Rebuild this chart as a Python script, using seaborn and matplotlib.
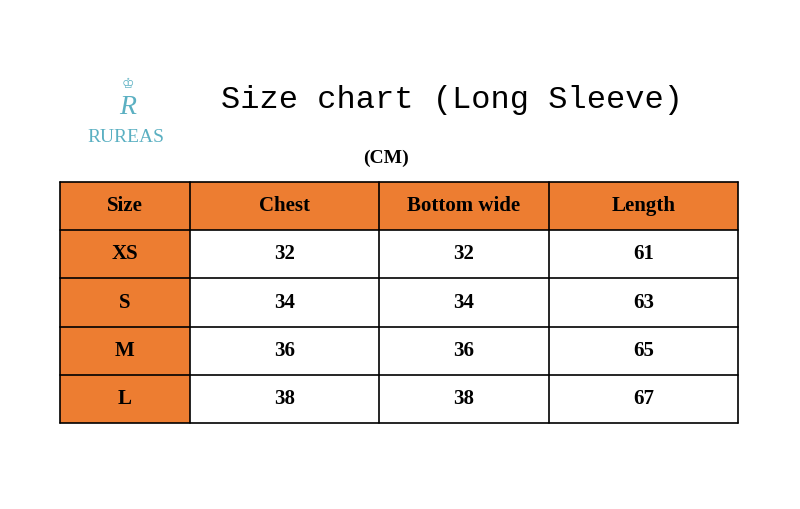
import matplotlib
matplotlib.use("Agg")
import matplotlib.pyplot as plt
import numpy as np
import seaborn as sns
from matplotlib.colors import ListedColormap

headers = ["Size", "Chest", "Bottom wide", "Length"]
sizes = ["XS", "S", "M", "L"]
chest = [32, 34, 36, 38]
bottom_wide = [32, 34, 36, 38]
length = [61, 63, 65, 67]
col_units = [13, 19, 17, 19]  # relative column widths

ORANGE = "#ED7D31"
TEAL = "#5BB0C2"

rows = [headers] + [[s, str(c), str(b), str(l)] for s, c, b, l in zip(sizes, chest, bottom_wide, length)]
n_rows = len(rows)

# colour code per cell: 1 = orange (header row / size column), 0 = white
codes = np.zeros((n_rows, len(headers)))
codes[0, :] = 1
codes[:, 0] = 1
expanded = np.repeat(codes, col_units, axis=1)

sns.set_theme(style="white")
fig = plt.figure(figsize=(8, 5.09), dpi=100)
ax = fig.add_axes([60 / 800, 1 - 423 / 509, 678 / 800, 241 / 509])
sns.heatmap(expanded, ax=ax, cmap=ListedColormap(["white", ORANGE]), cbar=False,
            xticklabels=False, yticklabels=False, vmin=0, vmax=1)

edges = np.concatenate([[0], np.cumsum(col_units)])
for x in edges:
    ax.axvline(x, color="black", lw=1.2, clip_on=False)
for y in range(n_rows + 1):
    ax.axhline(y, color="black", lw=1.2, clip_on=False)

for i, row in enumerate(rows):
    for j, txt in enumerate(row):
        ax.text((edges[j] + edges[j + 1]) / 2, i + 0.5, txt, ha="center", va="center",
                fontsize=15, fontweight="bold", family="Liberation Serif", color="black")

fig.text(452 / 800, 1 - 100 / 509, "Size chart (Long Sleeve)", ha="center", va="center",
         fontsize=23, family="Liberation Mono", color="black")
fig.text(386 / 800, 1 - 158 / 509, "(CM)", ha="center", va="center",
         fontsize=14, fontweight="bold", family="Liberation Serif", color="black")

# logo
fig.text(128 / 800, 1 - 84 / 509, "♔", ha="center", va="center", fontsize=10, color=TEAL,
         family="DejaVu Sans")
fig.text(128 / 800, 1 - 108 / 509, "R", ha="center", va="center", fontsize=20, color=TEAL,
         family="Liberation Serif", style="italic")
fig.text(126 / 800, 1 - 137 / 509, "RUREAS", ha="center", va="center", fontsize=14, color=TEAL,
         family="Liberation Serif")

fig.savefig("out.png", dpi=100, facecolor="white")
